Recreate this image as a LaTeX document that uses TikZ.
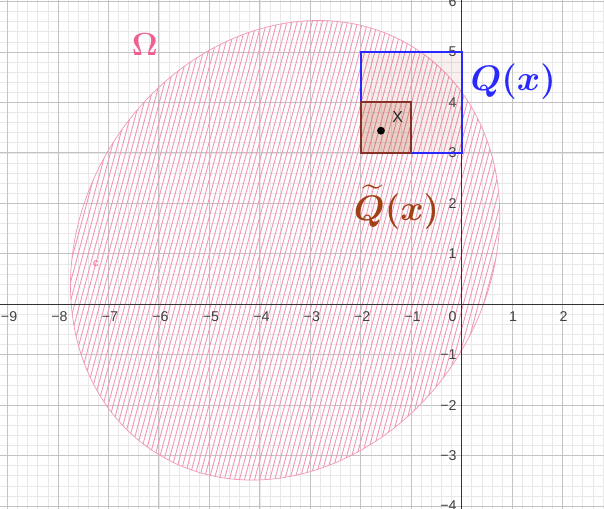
\documentclass[tikz,border=0pt]{standalone}
\usepackage{fix-cm}
\usepackage{fontspec}
\usepackage{amsmath,bm}
\newfontfamily\ggfont{Liberation Sans}
\definecolor{omegapink}{RGB}{240,96,144}
\definecolor{hatchpink}{RGB}{242,150,182}
\definecolor{gridminor}{RGB}{232,232,232}
\definecolor{gridmajor}{RGB}{195,195,195}
\definecolor{qblue}{RGB}{40,40,255}
\definecolor{qbrown}{RGB}{135,50,40}
\definecolor{qtbrown}{RGB}{160,64,20}
\begin{document}
\begin{tikzpicture}[>=latex]
			\tikzset{
				minorgrid/.style={gridminor, line width=0.4pt},
				majorgrid/.style={gridmajor, line width=0.5pt},
				hatchline/.style={hatchpink, line width=0.5pt},
				ticklabel/.style={font=\ggfont\fontsize{8}{9}\selectfont, text=black!75, inner sep=1pt},
				square/.style={line width=1.1pt, fill=qtbrown},
			}
			\useasboundingbox (-9.15,-4.04) rectangle (2.82,6.03);
			% grid
			\draw[minorgrid] (-9.2,-4.2) grid[step=0.2] (3,6.2);
			\draw[majorgrid] (-9.2,-4.2) grid[step=1] (3,6.2);
			% Omega
			\begin{scope}
				\clip[rotate around={57:(-3.5,1.07)}] (-3.5,1.07) ellipse [x radius=4.76, y radius=4.02];
				\foreach \i in {0,...,100}
					{
						\draw[hatchline] ({-9.6+0.1*\i},-4.2) -- ++(2.8,10.4);
					}
			\end{scope}
			\draw[hatchpink, line width=0.4pt, rotate around={57:(-3.5,1.07)}] (-3.5,1.07) ellipse [x radius=4.76, y radius=4.02];
			% axes
			\draw[black!80, line width=0.6pt] (-9.2,0) -- (3,0);
			\draw[black!80, line width=0.6pt] (0,-4.2) -- (0,6.2);
			\node[ticklabel, anchor=north east] (o) at (-0.06,-0.1) {0};
			\foreach \x in {1,...,9}
				{
					\node[ticklabel, anchor=north] (xm\x) at ({-\x+0.03},-0.1) {−\x};
				}
			\foreach \x in {1,2}
				{
					\node[ticklabel, anchor=north] (xp\x) at ({\x+0.02},-0.1) {\x};
				}
			\foreach \y in {1,...,6}
				{
					\node[ticklabel, anchor=east] (yp\y) at (-0.06,\y) {\y};
				}
			\foreach \y in {1,...,4}
				{
					\node[ticklabel, anchor=east] (ym\y) at (-0.06,-\y) {−\y};
				}
			% the two squares
			\draw[square, draw=qblue, fill opacity=0.08] (-2,3) rectangle (0,5);
			\draw[square, draw=qbrown, fill opacity=0.18] (-2,3) rectangle (-1,4);
			\node[circle, fill=black, inner sep=0, minimum size=4.4pt] (xpt) at (-1.6,3.44) {};
			\node[font=\ggfont\fontsize{9}{11}\selectfont, text=black!85] (xlab) at (-1.27,3.72) {X};
			% labels
			\node[text=qblue, font=\fontsize{20}{24}\selectfont] (qlab) at (1.02,4.41) {$\bm{Q(x)}$};
			\node[text=qtbrown, font=\fontsize{20}{24}\selectfont] (qtlab) at (-1.29,1.92) {$\bm{\widetilde{Q}(x)}$};
			\node[text=omegapink, font=\fontsize{18}{20}\selectfont] (omegalab) at (-6.28,5.15) {$\bm{\Omega}$};
			\node[text=omegapink, font=\ggfont\fontsize{6}{7}\selectfont] (clab) at (-7.25,0.8) {c};
		\end{tikzpicture}
\end{document}
